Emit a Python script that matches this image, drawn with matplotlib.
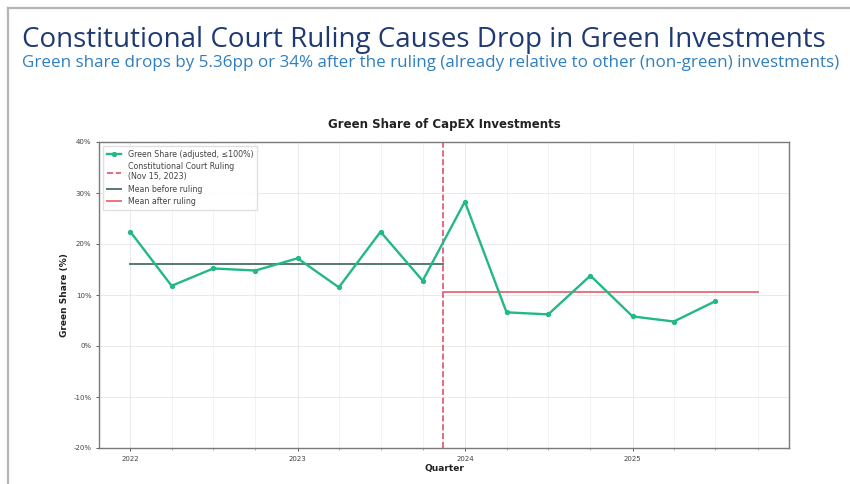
import matplotlib
matplotlib.use("Agg")
import matplotlib.pyplot as plt
import matplotlib.dates as mdates
from matplotlib.ticker import FuncFormatter, MultipleLocator
from matplotlib.lines import Line2D
import pandas as pd

# ---- data ----
quarters = ["2022-01-01", "2022-04-01", "2022-07-01", "2022-10-01",
            "2023-01-01", "2023-04-01", "2023-07-01", "2023-10-01",
            "2024-01-01", "2024-04-01", "2024-07-01", "2024-10-01",
            "2025-01-01", "2025-04-01", "2025-07-01"]
green_share = [22.4, 11.8, 15.2, 14.8, 17.2, 11.5, 22.4, 12.8,
               28.3, 6.6, 6.2, 13.8, 5.8, 4.8, 8.8]
ruling_date = "2023-11-15"
mean_end_date = "2025-10-01"
mean_before = 16.0
mean_after = 10.6
year_ticks = ["2022-01-01", "2023-01-01", "2024-01-01", "2025-01-01"]
year_labels = ["2022", "2023", "2024", "2025"]

title = "Constitutional Court Ruling Causes Drop in Green Investments"
subtitle = "Green share drops by 5.36pp or 34% after the ruling (already relative to other (non-green) investments)"

dates = pd.to_datetime(quarters)
ruling = pd.Timestamp(ruling_date)
mean_end = pd.Timestamp(mean_end_date)

GREEN = "#22b887"
RULE = "#e0506e"
MB = "#557a70"
MA = "#e97382"

fig = plt.figure(figsize=(8.5, 4.84), dpi=100)
fig.patch.set_facecolor("white")

# slide frame (left & top edges)
fig.add_artist(Line2D([8/850, 8/850], [0, 1 - 8/484], color="#b5b5b5", lw=1.6))
fig.add_artist(Line2D([8/850, 1], [1 - 8/484, 1 - 8/484], color="#b5b5b5", lw=1.6))

fig.text(22/850, 1 - 40/484, title, fontsize=19.95, color="#1f3a73",
         family=["Open Sans", "DejaVu Sans"], va="center", ha="left")
fig.text(22/850, 1 - 63/484, subtitle, fontsize=12.25, color="#2f7fc0",
         family=["Open Sans", "DejaVu Sans"], va="center", ha="left")

ax = fig.add_axes([99/850, 36/484, (789 - 99)/850, (448 - 142)/484])

ax.plot(dates, green_share, color=GREEN, lw=1.7, marker="o", ms=2.8,
        label="Green Share (adjusted, \u2264100%)", zorder=3)
ax.axvline(ruling, color=RULE, ls="--", lw=1.2,
           label="Constitutional Court Ruling\n(Nov 15, 2023)", zorder=2)
ax.plot([dates[0], ruling], [mean_before, mean_before], color=MB, lw=1.4,
        label="Mean before ruling", zorder=2)
ax.plot([ruling, mean_end], [mean_after, mean_after], color=MA, lw=1.4,
        label="Mean after ruling", zorder=2)

ax.set_ylim(-20, 40)
ax.yaxis.set_major_locator(MultipleLocator(10))
ax.yaxis.set_major_formatter(FuncFormatter(lambda v, p: f"{v:.0f}%"))
ax.set_xticks(pd.to_datetime(year_ticks))
ax.set_xticklabels(year_labels)
ax.xaxis.set_minor_locator(mdates.MonthLocator(bymonth=[1, 4, 7, 10]))
ax.margins(x=0.05)

ax.tick_params(axis="both", which="major", labelsize=5, colors="#444444",
               length=2.5, width=0.6, pad=3)
ax.tick_params(axis="x", which="minor", length=1.5, width=0.5, color="#888888")
ax.grid(True, which="major", color="#e6e6e6", lw=0.6)
ax.grid(True, which="minor", axis="x", color="#eeeeee", lw=0.5)
ax.set_axisbelow(True)
for s in ax.spines.values():
    s.set_color("#7a7a7a")
    s.set_linewidth(1.0)

ax.set_title("Green Share of CapEX Investments", fontsize=8.5, fontweight="bold",
             pad=10, color="#222222")
ax.set_ylabel("Green Share (%)", fontsize=6.5, fontweight="bold", color="#222222", labelpad=3)
ax.set_xlabel("Quarter", fontsize=6.5, fontweight="bold", color="#222222", labelpad=2)

leg = ax.legend(loc="upper left", fontsize=5.7, frameon=True, framealpha=0.9,
                edgecolor="#dddddd", handlelength=1.8, borderpad=0.5,
                labelspacing=0.4, fancybox=False)
for t in leg.get_texts():
    t.set_color("#444444")

fig.savefig("out.png", dpi=100, facecolor="white")
